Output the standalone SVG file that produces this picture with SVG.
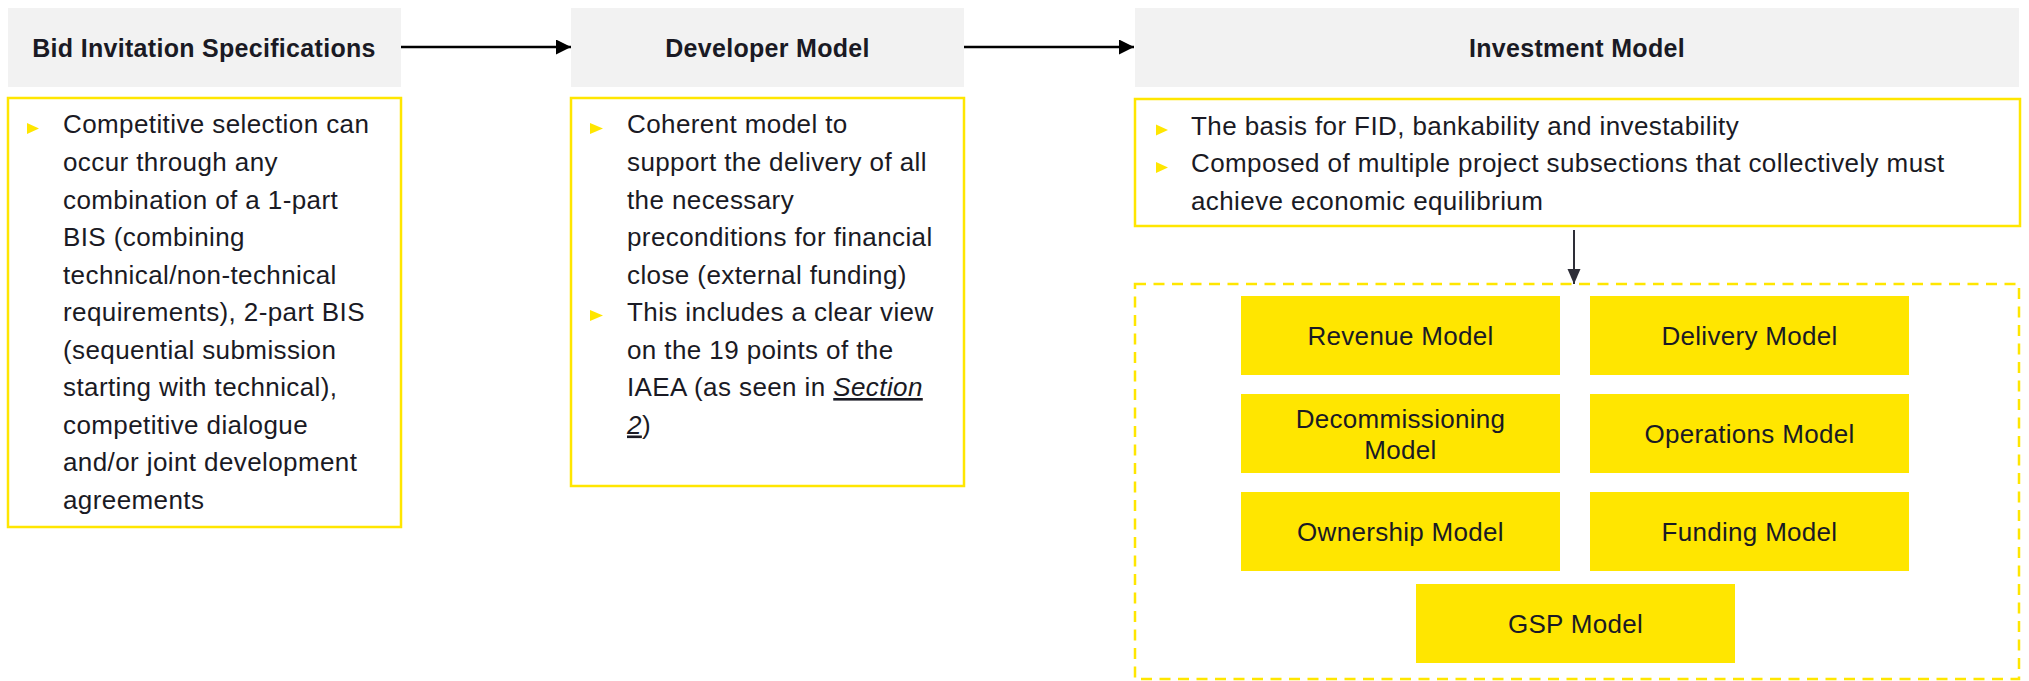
<svg xmlns="http://www.w3.org/2000/svg" width="2029" height="681" viewBox="0 0 2029 681">
  <style>
    .hdr { fill: #f2f2f2; }
    .hdrtxt { font-family: "Liberation Sans", Arial, sans-serif; font-size: 25px; font-weight: bold; letter-spacing: 0.3px; fill: #1a1a24; text-anchor: middle; }
    .body { fill: #ffffff; stroke: #ffe600; stroke-width: 2.5; }
    .txt { font-family: "Liberation Sans", Arial, sans-serif; font-size: 26px; letter-spacing: 0.4px; fill: #1a1a24; }
    .bul { fill: #ffe600; }
    .ybox { fill: #ffe600; }
    .ytxt { font-family: "Liberation Sans", Arial, sans-serif; font-size: 26px; letter-spacing: 0.3px; fill: #1a1a24; text-anchor: middle; }
    .dash { fill: none; stroke: #ffe600; stroke-width: 2.5; stroke-dasharray: 11 7.5; }
    .conn { stroke: #000000; stroke-width: 2.5; fill: none; }
    .connd { stroke: #2e2e38; stroke-width: 2; fill: none; }
    .em { font-style: italic; text-decoration: underline; }
  </style>
  <defs>
    <marker id="ah" markerUnits="userSpaceOnUse" markerWidth="16" markerHeight="16" refX="15" refY="7.5" orient="auto">
      <path d="M0,0 L15,7.5 L0,15 z" fill="#000000"/>
    </marker>
    <marker id="ahd" markerUnits="userSpaceOnUse" markerWidth="16" markerHeight="16" refX="15" refY="6.5" orient="auto">
      <path d="M0,0 L15,6.5 L0,13 z" fill="#2e2e38"/>
    </marker>
  </defs>

  <g id="bis">
    <rect class="hdr" x="8" y="8" width="393" height="79"/>
    <text class="hdrtxt" x="204" y="57">Bid Invitation Specifications</text>
    <rect class="body" x="8" y="98" width="393" height="429"/>
    <polygon class="bul" points="27,123 39,128.5 27,134"/>
    <text class="txt">
      <tspan x="63" y="133">Competitive selection can</tspan>
      <tspan x="63" y="171">occur through any</tspan>
      <tspan x="63" y="208.5">combination of a 1-part</tspan>
      <tspan x="63" y="246">BIS (combining</tspan>
      <tspan x="63" y="283.5">technical/non-technical</tspan>
      <tspan x="63" y="321">requirements), 2-part BIS</tspan>
      <tspan x="63" y="358.5">(sequential submission</tspan>
      <tspan x="63" y="396">starting with technical),</tspan>
      <tspan x="63" y="433.5">competitive dialogue</tspan>
      <tspan x="63" y="471">and/or joint development</tspan>
      <tspan x="63" y="508.5">agreements</tspan>
    </text>
  </g>

  <g id="developer">
    <rect class="hdr" x="571" y="8" width="393" height="79"/>
    <text class="hdrtxt" x="767.5" y="57">Developer Model</text>
    <rect class="body" x="571" y="98" width="393" height="388"/>
    <polygon class="bul" points="590,123 603,128.5 590,134"/>
    <polygon class="bul" points="590,310 603,315.5 590,321"/>
    <text class="txt">
      <tspan x="627" y="133">Coherent model to</tspan>
      <tspan x="627" y="171">support the delivery of all</tspan>
      <tspan x="627" y="208.5">the necessary</tspan>
      <tspan x="627" y="246">preconditions for financial</tspan>
      <tspan x="627" y="283.5">close (external funding)</tspan>
      <tspan x="627" y="321">This includes a clear view</tspan>
      <tspan x="627" y="358.5">on the 19 points of the</tspan>
      <tspan x="627" y="396">IAEA (as seen in <tspan class="em">Section</tspan></tspan>
      <tspan x="627" y="433.5"><tspan class="em">2</tspan>)</tspan>
    </text>
  </g>

  <g id="investment">
    <rect class="hdr" x="1135" y="8" width="884" height="79"/>
    <text class="hdrtxt" x="1577" y="57">Investment Model</text>
    <rect class="body" x="1135" y="99" width="885" height="127"/>
    <polygon class="bul" points="1156,124.5 1168,130 1156,135.5"/>
    <polygon class="bul" points="1156,162 1168,167.5 1156,173"/>
    <text class="txt">
      <tspan x="1191" y="134.5">The basis for FID, bankability and investability</tspan>
      <tspan x="1191" y="172">Composed of multiple project subsections that collectively must</tspan>
      <tspan x="1191" y="209.5">achieve economic equilibrium</tspan>
    </text>
  </g>

  <g id="subsections">
    <rect class="dash" x="1135" y="284" width="884" height="395"/>
  </g>

  <g id="revenue">
    <rect class="ybox" x="1241" y="296" width="319" height="79"/>
    <text class="ytxt" x="1400.5" y="345">Revenue Model</text>
  </g>
  <g id="delivery">
    <rect class="ybox" x="1590" y="296" width="319" height="79"/>
    <text class="ytxt" x="1749.5" y="345">Delivery Model</text>
  </g>
  <g id="decommissioning">
    <rect class="ybox" x="1241" y="394" width="319" height="79"/>
    <text class="ytxt"><tspan x="1400.5" y="427.5">Decommissioning</tspan><tspan x="1400.5" y="458.5">Model</tspan></text>
  </g>
  <g id="operations">
    <rect class="ybox" x="1590" y="394" width="319" height="79"/>
    <text class="ytxt" x="1749.5" y="443">Operations Model</text>
  </g>
  <g id="ownership">
    <rect class="ybox" x="1241" y="492" width="319" height="79"/>
    <text class="ytxt" x="1400.5" y="541">Ownership Model</text>
  </g>
  <g id="funding">
    <rect class="ybox" x="1590" y="492" width="319" height="79"/>
    <text class="ytxt" x="1749.5" y="541">Funding Model</text>
  </g>
  <g id="gsp">
    <rect class="ybox" x="1416" y="584" width="319" height="79"/>
    <text class="ytxt" x="1575.5" y="633">GSP Model</text>
  </g>

  <g id="connectors">
    <line class="conn" x1="401" y1="47" x2="571" y2="47" marker-end="url(#ah)"/>
    <line class="conn" x1="964" y1="47" x2="1134" y2="47" marker-end="url(#ah)"/>
    <line class="connd" x1="1574" y1="230" x2="1574" y2="284" marker-end="url(#ahd)"/>
  </g>
</svg>
